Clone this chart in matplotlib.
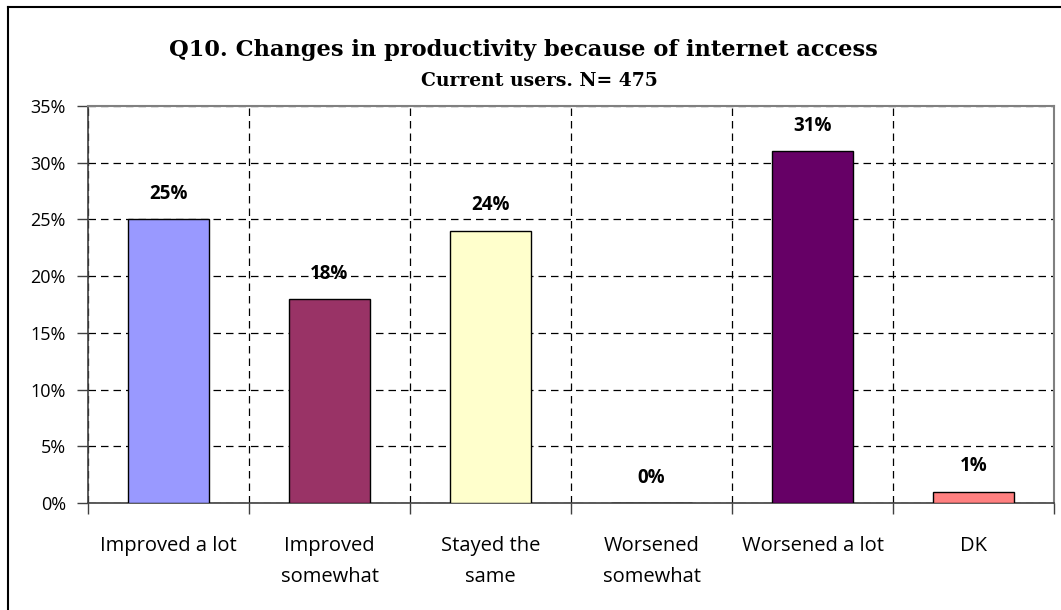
import matplotlib
matplotlib.use("Agg")
import matplotlib.pyplot as plt
from matplotlib.lines import Line2D
import numpy as np

categories = ["Improved a lot", "Improved\nsomewhat", "Stayed the\nsame",
              "Worsened\nsomewhat", "Worsened a lot", "DK"]
values = [25, 18, 24, 0, 31, 1]
colors = ["#9999FF", "#993366", "#FFFFCC", "#FFFFFF", "#660066", "#FF8080"]
yticks = [0, 5, 10, 15, 20, 25, 30, 35]
title = "Q10. Changes in productivity because of internet access"
subtitle = "Current users. N= 475"

W, H = 1061, 610
fig = plt.figure(figsize=(W / 100, H / 100), dpi=100)
fig.patch.set_facecolor("white")

ax = fig.add_axes([88 / W, 1 - 503 / H, (1054 - 88) / W, (503 - 106) / H])
x = np.arange(len(categories))
ax.bar(x, values, width=0.5, color=colors, edgecolor="black", linewidth=1.0, zorder=3)

ax.set_xlim(-0.5, len(categories) - 0.5)
ax.set_ylim(0, 35)

ax.set_yticks(yticks)
ax.set_yticklabels([f"{v}%" for v in yticks])
ax.tick_params(axis="y", direction="out", length=8, width=1, color="#404040",
               labelsize=13, pad=8)

bounds = np.arange(len(categories) + 1) - 0.5
ax.set_xticks(bounds)
ax.set_xticklabels([])
ax.tick_params(axis="x", which="major", direction="out", length=8, width=1, color="#404040")
ax.set_xticks(x, minor=True)
ax.set_xticklabels(categories, minor=True, linespacing=1.7)
ax.tick_params(axis="x", which="minor", length=0, labelsize=14.5, pad=24)

for lab in ax.get_yticklabels() + ax.get_xticklabels(minor=True):
    lab.set_fontfamily("Open Sans")

ax.grid(True, axis="both", which="major", linestyle=(0, (6, 4)), color="black",
        linewidth=0.9, zorder=0)
ax.set_axisbelow(True)

for s in ["top", "right"]:
    ax.spines[s].set_color("#808080")
    ax.spines[s].set_linewidth(1.5)
ax.spines["left"].set_color("#404040")
ax.spines["bottom"].set_color("#404040")
ax.spines["left"].set_linewidth(1.2)
ax.spines["bottom"].set_linewidth(1.2)

for xi, v in zip(x, values):
    ax.annotate(f"{v}%", (xi, v), xytext=(0, 11), textcoords="offset points",
                ha="center", va="bottom", fontsize=13.5, fontweight="bold",
                fontfamily="Open Sans")

fig.text(523 / W, 1 - 50 / H, title, ha="center", va="center",
         fontsize=16.2, fontweight="bold", fontfamily="DejaVu Serif")
fig.text(539 / W, 1 - 81 / H, subtitle, ha="center", va="center",
         fontsize=13.5, fontweight="bold", fontfamily="DejaVu Serif")

fig.add_artist(Line2D([8 / W, 8 / W], [0, 1 - 7 / H], transform=fig.transFigure,
                      color="black", linewidth=1.5))
fig.add_artist(Line2D([8 / W, 1], [1 - 7 / H, 1 - 7 / H], transform=fig.transFigure,
                      color="black", linewidth=1.5))

fig.savefig("out.png", dpi=100)
